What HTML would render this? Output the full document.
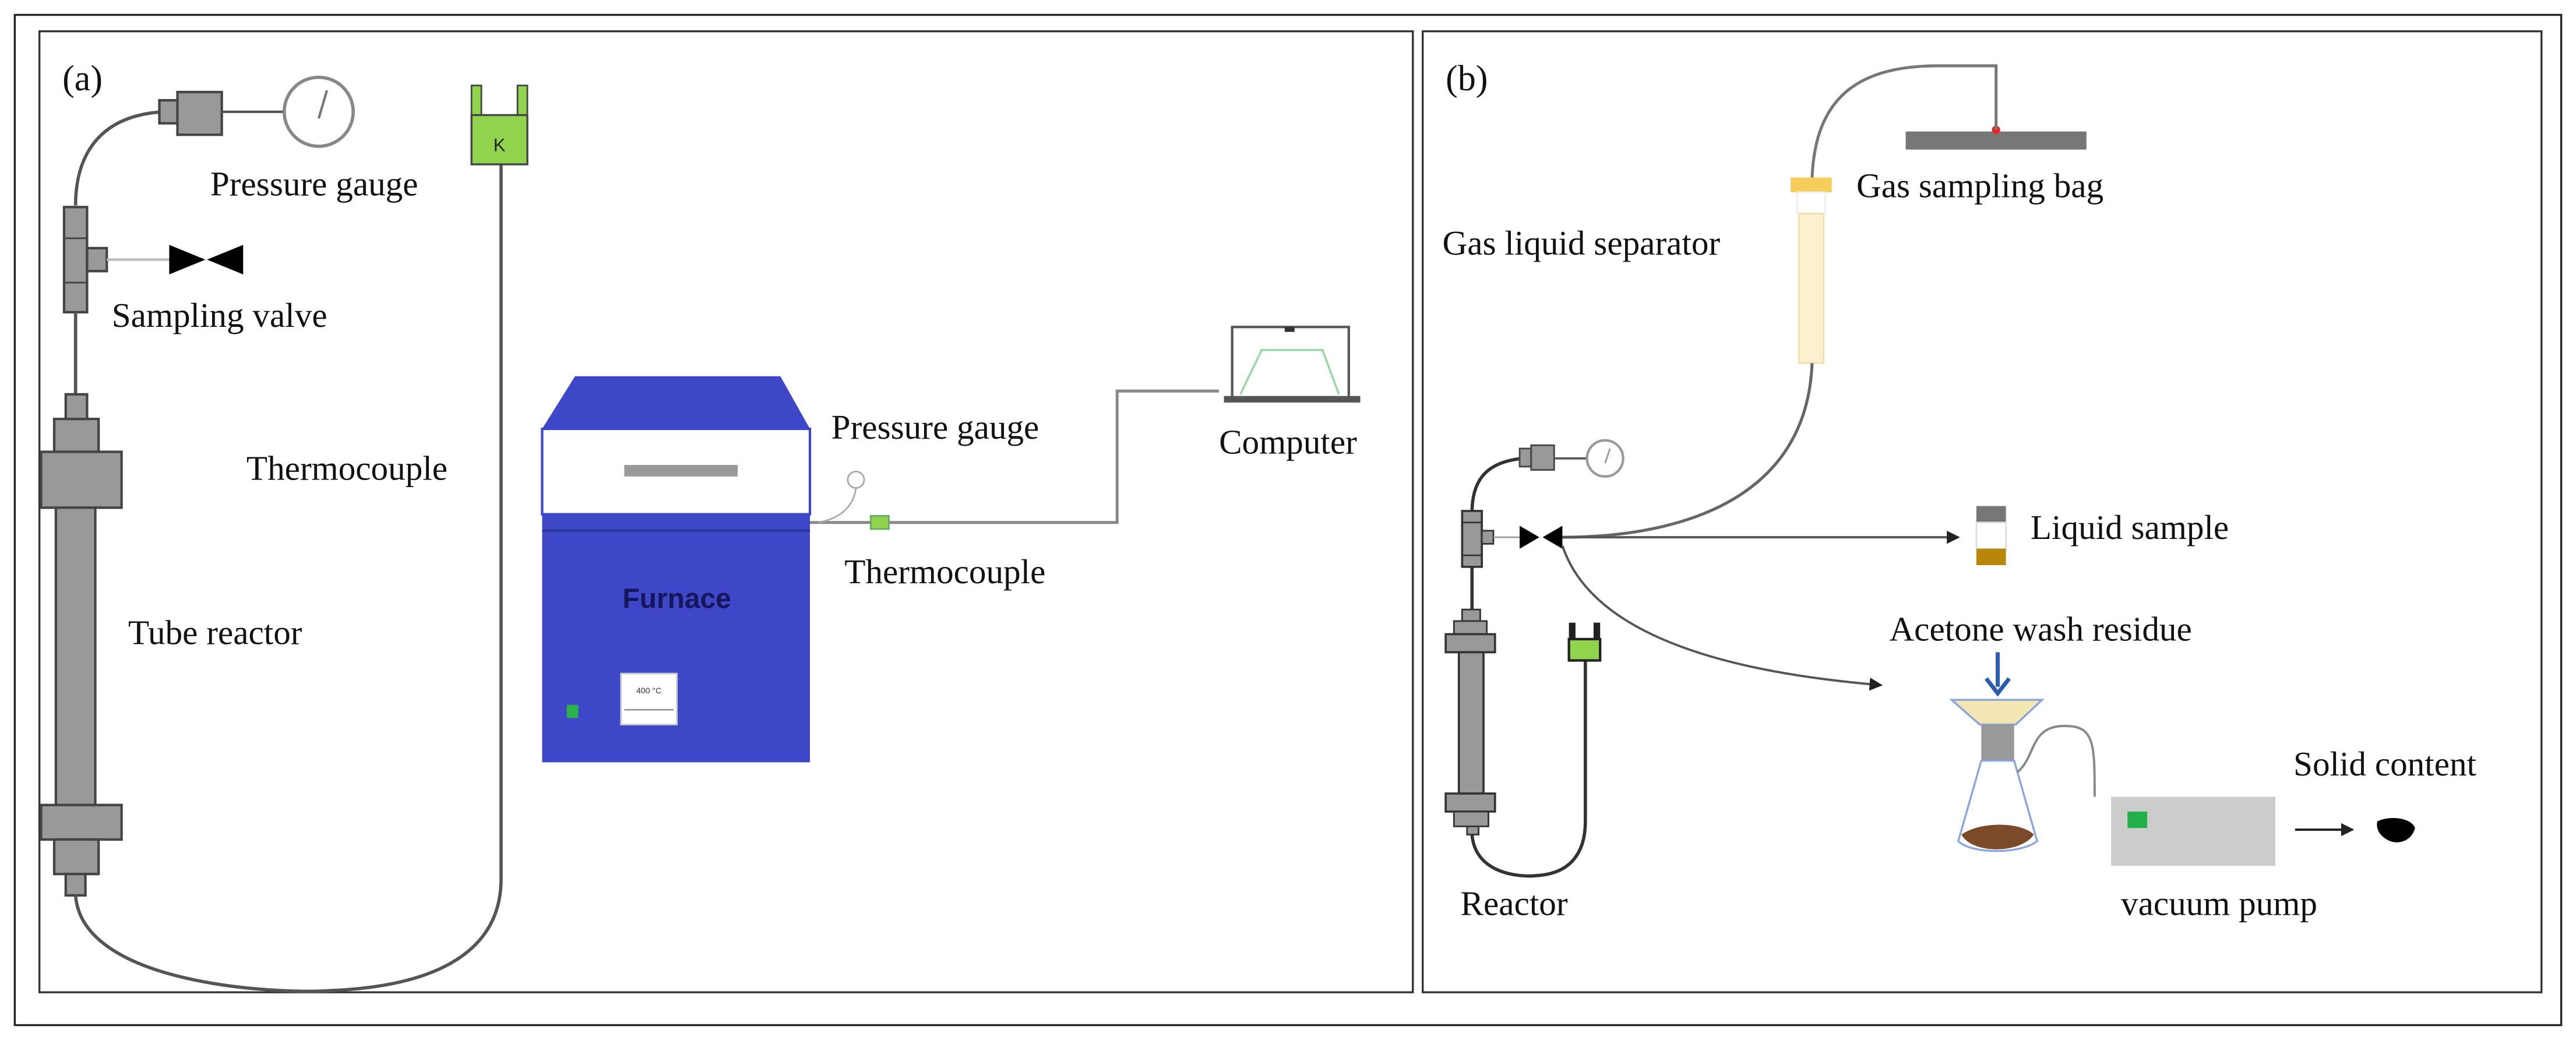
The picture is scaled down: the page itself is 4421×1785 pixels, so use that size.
<!DOCTYPE html>
<html><head><meta charset="utf-8"><style>
html,body{margin:0;padding:0;background:#fff;}
svg{display:block;}
.s{font-family:"Liberation Serif",serif;fill:#111;}
</style></head><body>
<svg width="4421" height="1785" viewBox="0 0 1568 633" xmlns="http://www.w3.org/2000/svg">
<defs>
<marker id="ar" markerWidth="8" markerHeight="8" refX="7" refY="4" orient="auto" markerUnits="userSpaceOnUse"><path d="M0,0 L8,4 L0,8 Z" fill="#222"/></marker>
</defs>
<rect x="0" y="0" width="1568" height="633" fill="#fff"/>
<rect x="9" y="9" width="1550" height="615" fill="none" stroke="#222" stroke-width="1.2"/>
<rect x="24" y="19" width="836" height="585" fill="none" stroke="#333" stroke-width="1.2"/>
<rect x="866" y="19" width="681" height="585" fill="none" stroke="#333" stroke-width="1.2"/>

<!-- Panel A -->
<text class="s" x="38" y="55" font-size="22">(a)</text>
<path d="M100,68 C60,70 46,95 46,125" fill="none" stroke="#555" stroke-width="2"/>
<rect x="97" y="61" width="12" height="14" fill="#999" stroke="#444" stroke-width="1.5"/>
<rect x="108" y="56" width="27" height="26" fill="#999" stroke="#444" stroke-width="1.5"/>
<line x1="135" y1="68" x2="174" y2="68" stroke="#555" stroke-width="1.5"/>
<circle cx="194" cy="68" r="21" fill="#fff" stroke="#888" stroke-width="2"/>
<line x1="194" y1="72" x2="199" y2="55" stroke="#777" stroke-width="1.5"/>
<text class="s" x="128" y="119" font-size="21">Pressure gauge</text>
<rect x="39" y="126" width="14" height="64" fill="#999" stroke="#444" stroke-width="1.5"/>
<line x1="39" y1="145" x2="53" y2="145" stroke="#444"/><line x1="39" y1="172" x2="53" y2="172" stroke="#444"/>
<rect x="53" y="151" width="12" height="14" fill="#999" stroke="#444" stroke-width="1.5"/>
<line x1="65" y1="158" x2="103" y2="158" stroke="#bbb" stroke-width="1.5"/>
<path d="M103,149 L125,158 L103,167 Z M148,149 L126,158 L148,167 Z" fill="#000"/>
<text class="s" x="68" y="199" font-size="21">Sampling valve</text>
<line x1="46" y1="190" x2="46" y2="240" stroke="#555" stroke-width="2"/>
<rect x="40" y="240" width="13" height="15" fill="#999" stroke="#444" stroke-width="1.5"/>
<rect x="33" y="255" width="27" height="20" fill="#999" stroke="#444" stroke-width="1.5"/>
<rect x="25" y="275" width="49" height="34" fill="#999" stroke="#444" stroke-width="1.5"/>
<rect x="34" y="309" width="24" height="181" fill="#999" stroke="#444" stroke-width="1.5"/>
<rect x="25" y="490" width="49" height="21" fill="#999" stroke="#444" stroke-width="1.5"/>
<rect x="33" y="511" width="27" height="21" fill="#999" stroke="#444" stroke-width="1.5"/>
<rect x="40" y="532" width="12" height="13" fill="#999" stroke="#444" stroke-width="1.5"/>
<path d="M46,545 C50,600 170,605 200,603 C280,600 305,570 305,535 L305,100" fill="none" stroke="#555" stroke-width="2"/>
<rect x="287" y="52" width="6" height="22" fill="#8fd44c" stroke="#444"/>
<rect x="315" y="52" width="6" height="22" fill="#8fd44c" stroke="#444"/>
<rect x="287" y="70" width="34" height="30" fill="#8fd44c" stroke="#444" stroke-width="1.2"/>
<text x="304" y="92" style="font-family:'Liberation Sans',sans-serif;font-size:11px;fill:#222" text-anchor="middle">K</text>
<text class="s" x="150" y="292" font-size="21">Thermocouple</text>
<text class="s" x="78" y="392" font-size="21">Tube reactor</text>
<path d="M330,261 L350,229 L475,229 L493,261 Z" fill="#3d47c8"/>
<rect x="330" y="261" width="163" height="52" fill="#fff" stroke="#3d47c8" stroke-width="1.5"/>
<rect x="380" y="283" width="69" height="7" fill="#999"/>
<rect x="330" y="313" width="163" height="151" fill="#3d47c8"/>
<line x1="330" y1="323" x2="493" y2="323" stroke="#2a3598" stroke-width="1.5"/>
<text x="412" y="370" text-anchor="middle" style="font-family:'Liberation Sans',sans-serif;font-size:17px;font-weight:bold;fill:#16165a">Furnace</text>
<rect x="378" y="410" width="34" height="31" fill="#fff" stroke="#ccc"/>
<text x="395" y="422" text-anchor="middle" style="font-family:'Liberation Sans',sans-serif;font-size:5px;fill:#333">400 °C</text>
<line x1="380" y1="432" x2="410" y2="432" stroke="#999"/>
<rect x="345" y="429" width="7" height="8" fill="#2cb24b"/>
<path d="M493,318 L680,318 L680,238 L742,238" fill="none" stroke="#888" stroke-width="1.8"/>
<path d="M498,318 C515,315 520,305 521,297" fill="none" stroke="#aaa" stroke-width="1"/>
<circle cx="521" cy="292" r="5" fill="#fff" stroke="#aaa"/>
<rect x="530" y="314" width="11" height="8" fill="#8fd44c" stroke="#6a6"/>
<text class="s" x="506" y="267" font-size="21">Pressure gauge</text>
<text class="s" x="514" y="355" font-size="21">Thermocouple</text>
<rect x="750" y="199" width="71" height="43" fill="#fff" stroke="#555" stroke-width="1.5"/>
<rect x="782" y="199" width="6" height="3" fill="#333"/>
<path d="M755,240 L768,213 L805,213 L815,240" fill="none" stroke="#9fd6a9" stroke-width="1.3"/>
<rect x="745" y="241" width="83" height="4" fill="#555"/>
<text class="s" x="742" y="276" font-size="21">Computer</text>

<!-- Panel B -->
<text class="s" x="880" y="55" font-size="22">(b)</text>
<rect x="1160" y="80" width="110" height="11" fill="#777"/>
<circle cx="1215" cy="79" r="2.5" fill="#e22"/>
<path d="M1215,79 L1215,40 L1180,40 C1130,40 1105,60 1103,108" fill="none" stroke="#777" stroke-width="1.8"/>
<rect x="1090" y="108" width="25" height="9" fill="#f6cc5a"/>
<rect x="1094" y="117" width="17" height="13" fill="#fff" stroke="#eee"/>
<rect x="1095" y="130" width="15" height="91" fill="#fdf0cf" stroke="#f0e0b0"/>
<text class="s" x="1130" y="120" font-size="21">Gas sampling bag</text>
<text class="s" x="878" y="155" font-size="21">Gas liquid separator</text>
<path d="M1103,221 C1100,300 1030,327 950,327" fill="none" stroke="#666" stroke-width="1.8"/>
<path d="M927,279 C905,281 896,292 896,312" fill="none" stroke="#333" stroke-width="2"/>
<rect x="925" y="273" width="7" height="11" fill="#999" stroke="#444"/>
<rect x="932" y="271" width="14" height="15" fill="#999" stroke="#444"/>
<line x1="946" y1="279" x2="966" y2="279" stroke="#555" stroke-width="1.3"/>
<circle cx="977" cy="279" r="11" fill="#fff" stroke="#999" stroke-width="1.5"/>
<line x1="977" y1="282" x2="980" y2="273" stroke="#999"/>
<rect x="890" y="311" width="12" height="34" fill="#999" stroke="#333" stroke-width="1.3"/>
<line x1="890" y1="318" x2="902" y2="318" stroke="#333"/><line x1="890" y1="338" x2="902" y2="338" stroke="#333"/>
<rect x="902" y="323" width="7" height="8" fill="#999" stroke="#333"/>
<line x1="909" y1="327" x2="925" y2="327" stroke="#999"/>
<path d="M925,320 L937,327 L925,334 Z M951,320 L939,327 L951,334 Z" fill="#000"/>
<line x1="951" y1="327" x2="1192" y2="327" stroke="#555" stroke-width="1.4" marker-end="url(#ar)"/>
<rect x="1203" y="308" width="18" height="10" fill="#777"/>
<rect x="1203" y="318" width="18" height="16" fill="#fff" stroke="#ddd"/>
<rect x="1203" y="334" width="18" height="10" fill="#b8860b"/>
<text class="s" x="1236" y="328" font-size="21">Liquid sample</text>
<line x1="896" y1="345" x2="896" y2="371" stroke="#333" stroke-width="2"/>
<rect x="890" y="371" width="11" height="7" fill="#999" stroke="#333"/>
<rect x="885" y="378" width="20" height="8" fill="#999" stroke="#333"/>
<rect x="880" y="386" width="30" height="11" fill="#999" stroke="#333" stroke-width="1.3"/>
<rect x="888" y="397" width="15" height="86" fill="#999" stroke="#333" stroke-width="1.3"/>
<rect x="880" y="483" width="30" height="11" fill="#999" stroke="#333" stroke-width="1.3"/>
<rect x="885" y="494" width="21" height="9" fill="#999" stroke="#333"/>
<rect x="893" y="503" width="7" height="5" fill="#999" stroke="#333"/>
<path d="M896,508 C898,532 925,534 935,533 C955,532 965,520 965,500 L965,402" fill="none" stroke="#333" stroke-width="2"/>
<rect x="955" y="379" width="4" height="12" fill="#222"/><rect x="970" y="379" width="4" height="12" fill="#222"/>
<rect x="955" y="389" width="19" height="13" fill="#8fd44c" stroke="#222" stroke-width="1.5"/>
<text class="s" x="889" y="557" font-size="21">Reactor</text>
<path d="M951,332 C970,390 1060,410 1145,417" fill="none" stroke="#555" stroke-width="1.4" marker-end="url(#ar)"/>
<text class="s" x="1150" y="390" font-size="21">Acetone wash residue</text>
<line x1="1216" y1="397" x2="1216" y2="418" stroke="#2d5db0" stroke-width="2.5"/>
<path d="M1209,413 L1216,422 L1223,413" fill="none" stroke="#2d5db0" stroke-width="2.5"/>
<path d="M1188,426 L1243,426 L1227,441 L1205,441 Z" fill="#f3e6b3" stroke="#8aa4dd" stroke-width="1.2"/>
<rect x="1206" y="441" width="20" height="22" fill="#999"/>
<path d="M1206,463 L1226,463 L1240,512 C1230,520 1200,520 1192,512 Z" fill="#fff" stroke="#8aa4dd" stroke-width="1.2"/>
<path d="M1194,508 C1205,500 1230,500 1238,508 C1230,520 1200,520 1194,508 Z" fill="#7a4a2a"/>
<path d="M1228,470 C1240,460 1235,440 1260,442 C1275,443 1275,455 1275,485" fill="none" stroke="#888" stroke-width="1.4"/>
<rect x="1285" y="485" width="100" height="42" fill="#ccc"/>
<rect x="1295" y="494" width="12" height="10" fill="#22b04b"/>
<text class="s" x="1291" y="557" font-size="21">vacuum pump</text>
<line x1="1397" y1="505" x2="1432" y2="505" stroke="#222" stroke-width="1.4" marker-end="url(#ar)"/>
<path d="M1447,500 C1455,496 1468,498 1470,504 C1468,512 1460,514 1455,512 C1450,510 1446,506 1447,500 Z" fill="#000"/>
<text class="s" x="1396" y="472" font-size="21">Solid content</text>
</svg>
</body></html>
